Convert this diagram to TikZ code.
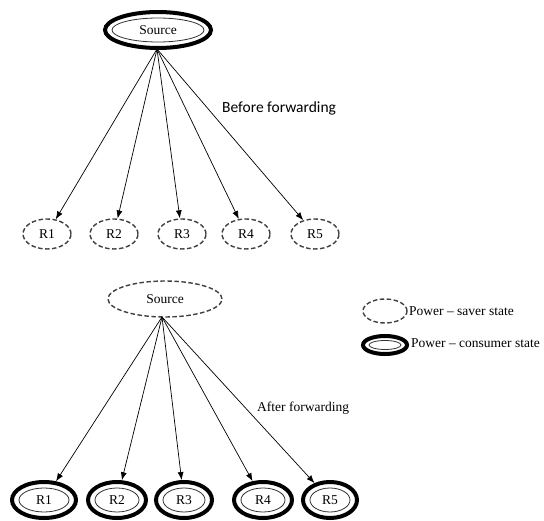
\documentclass[tikz,border=0pt]{standalone}
\usepackage{fontspec}
\setmainfont{Liberation Serif}
\newfontfamily\calibri{Carlito}
\usetikzlibrary{shapes.geometric,arrows.meta}
\begin{document}
\begin{tikzpicture}[x=1pt,y=-1pt,
  lbl/.style={font=\fontsize{13.5}{15}\selectfont, text=black},
  saver/.style 2 args={ellipse, draw=black!75, dashed, dash pattern=on 4.5pt off 2.5pt, line width=1.4pt,
     minimum width=#1, minimum height=#2, inner sep=0pt, lbl},
  consumer/.style n args={4}{ellipse, draw=black, line width=4pt,
     minimum width=#1, minimum height=#2, inner sep=0pt, lbl,
     path picture={\draw[line width=0.8pt, black!80] (path picture bounding box.center) ellipse [x radius=#3, y radius=#4];}},
  edge/.style={-{Latex[length=8pt,width=6pt]}, line width=0.7pt, black},
]
\useasboundingbox (0,0) rectangle (544,521);
% top
\node[consumer={106pt}{36pt}{46pt}{12pt}] (S1) at (158,30) {Source};
\node[saver={48pt}{30pt}] (A1) at (47,234) {R1};
\node[saver={48pt}{30pt}] (A2) at (114,234) {R2};
\node[saver={48pt}{30pt}] (A3) at (182,234) {R3};
\node[saver={48pt}{30pt}] (A4) at (246,234) {R4};
\node[saver={48pt}{30pt}] (A5) at (315,234) {R5};
\coordinate (T1) at (157,49);
\foreach \i in {1,...,5} \draw[edge] (T1) -- (A\i);
\node[font=\calibri\fontsize{15.5}{17}\selectfont, anchor=west, inner sep=0pt] (BF) at (222,108) {Before forwarding};
% bottom
\node[saver={114pt}{36pt}] (S2) at (165,299) {Source};
\node[consumer={64pt}{36pt}{25pt}{12pt}] (B1) at (44,500) {R1};
\node[consumer={58pt}{36pt}{22pt}{12pt}] (B2) at (117,500) {R2};
\node[consumer={56pt}{36pt}{21pt}{12pt}] (B3) at (184,500) {R3};
\node[consumer={58pt}{36pt}{22pt}{12pt}] (B4) at (263,500) {R4};
\node[consumer={54pt}{36pt}{20pt}{12pt}] (B5) at (330,500) {R5};
\coordinate (T2) at (162,317);
\foreach \i in {1,...,5} \draw[edge] (T2) -- (B\i);
\node[lbl, anchor=west, inner sep=0pt] (AF) at (257,408) {After forwarding};
% legend
\node[saver={44pt}{24pt}] (L1) at (385,311) {};
\node[lbl, anchor=west, inner sep=0pt] (L1t) at (409,311) {Power -- saver state};
\node[consumer={44pt}{18pt}{16pt}{4.5pt}] (L2) at (385,345) {};
\node[lbl, anchor=west, inner sep=0pt] (L2t) at (411,343) {Power -- consumer state};
\end{tikzpicture}
\end{document}
